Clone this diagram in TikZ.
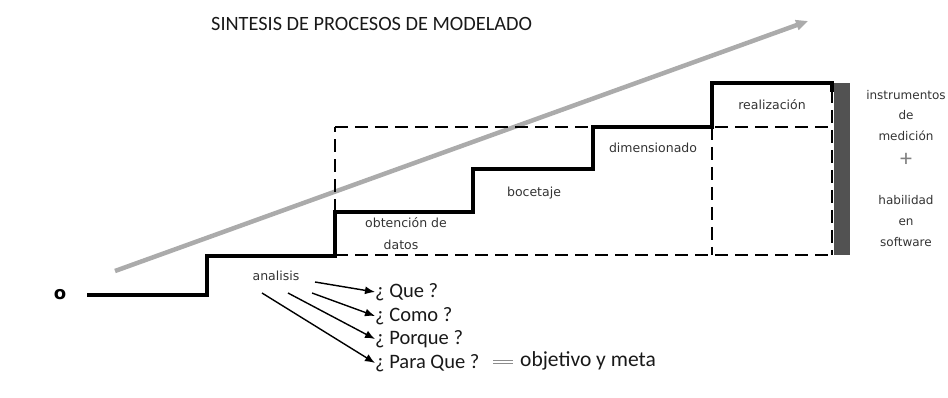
\documentclass[tikz,border=0pt]{standalone}
\usepackage{fontspec}
\setmainfont{Carlito}
\newfontfamily\lblfont{DejaVu Sans}
\usetikzlibrary{arrows.meta}
\begin{document}
\begin{tikzpicture}[x=1pt,y=-1pt,
  stair/.style={line width=3.8pt},
  dsh/.style={line width=2.8pt,dash pattern=on 13pt off 7pt},
  lbl/.style={font=\lblfont\fontsize{12.5}{14}\selectfont,inner sep=0pt,text=black!80},
  side/.style={font=\lblfont\fontsize{12}{14}\selectfont,inner sep=0pt,text=black!80},
  q/.style={font=\fontsize{20.5}{22}\selectfont,anchor=west,inner sep=0pt,text=black!90},
  qarr/.style={line width=1.4pt,-{Latex[length=10pt,width=8pt]}}]
\useasboundingbox (0,0) rectangle (948,398);
% title
\node[font=\fontsize{20.3}{22}\selectfont,inner sep=0pt,anchor=west,text=black!90] (title) at (211,24) {SINTESIS DE PROCESOS DE MODELADO};
% gray arrow
\coordinate (gs) at (115,271);
\coordinate (ge) at (808,21);
\draw[line width=4.5pt,black!33,-{Triangle[length=12pt,width=10pt]}] (gs) -- (ge);
% dashed frame
\coordinate (d1) at (335,127);
\coordinate (d2) at (832,127);
\coordinate (d3) at (832,255);
\coordinate (d4) at (335,255);
\coordinate (d5) at (712,127);
\coordinate (d6) at (712,255);
\coordinate (d7) at (832,90);
\draw[dsh] (d4) -- (d3);
\draw[dsh] (d1) -- (d2);
\draw[dsh] (335,212) -- (d1);
\draw[dsh] (d5) -- (d6);
\draw[dsh] (d7) -- (d3);
% gray bar
\fill[black!68] (834,83) rectangle (850,255);
% stairs
\coordinate (s0) at (87,295);
\draw[stair] (s0) -- (207,295) -- (207,256) -- (335,256) -- (335,212) -- (473,212) -- (473,169) -- (593,169) -- (593,127) -- (712,127) -- (712,83) -- (832,83) -- (832,92);
% o
\node[font=\lblfont\bfseries\fontsize{18}{18}\selectfont,inner sep=0pt] (o) at (60,295) {o};
% step labels
\node[lbl] (an) at (276,276) {analisis};
\node[lbl] (ob) at (406,223) {obtención de};
\node[lbl] (da) at (401,245) {datos};
\node[lbl] (bo) at (534,193) {bocetaje};
\node[lbl] (di) at (653,148) {dimensionado};
\node[lbl] (re) at (772,105) {realización};
% side text
\node[side] (s1) at (906,95) {instrumentos};
\node[side] (s2) at (906,115) {de};
\node[side] (s3) at (906,136) {medición};
\node[font=\fontsize{24}{24}\selectfont,text=black!50,inner sep=0pt] (s4) at (906,160) {+};
\node[side] (s5) at (906,200) {habilidad};
\node[side] (s6) at (906,222) {en};
\node[side] (s7) at (906,242) {software};
% questions
\node[q] (q1) at (375,292) {¿ Que ?};
\node[q] (q2) at (375,316) {¿ Como ?};
\node[q] (q3) at (375,339) {¿ Porque ?};
\node[q] (q4) at (375,363) {¿ Para Que ?};
\node[q,font=\fontsize{21.5}{23}\selectfont] (ob2) at (520,361) {objetivo y meta};
\coordinate (e1) at (493,362);
\coordinate (e2) at (513,362);
\draw[black!45,line width=1.2pt,double distance=2.5pt] (e1) -- (e2);
% arrows
\draw[qarr] (315,282) -- (q1.west);
\draw[qarr] (312,293) -- (q2.west);
\draw[qarr] (288,293) -- (q3.west);
\draw[qarr] (262,293) -- (q4.west);
\end{tikzpicture}
\end{document}
